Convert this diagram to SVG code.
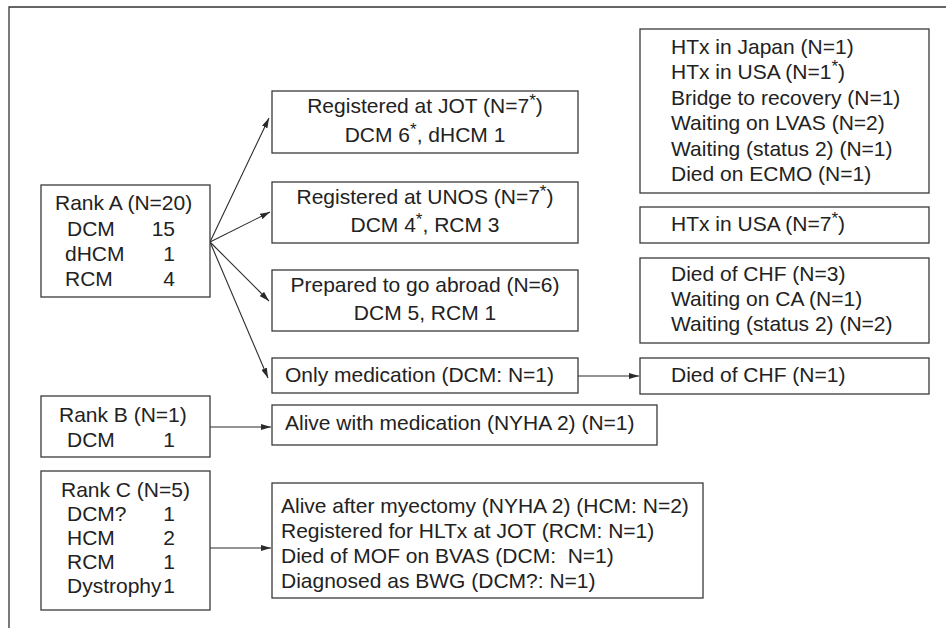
<svg xmlns="http://www.w3.org/2000/svg" width="946" height="628" viewBox="0 0 946 628">
<defs>
<style>
.box{fill:#fff;stroke:#3a3a3a;stroke-width:1.3}
.t{font-family:"Liberation Sans",Arial,sans-serif;font-size:21px;fill:#222}
.c{text-anchor:middle}
.e{text-anchor:end}
.sup{font-size:17px}
.ln{stroke:#2a2a2a;stroke-width:1.1;fill:none}
.frame{stroke:#333;stroke-width:1.3;fill:none}
</style>
<marker id="ah" viewBox="0 0 10 6" refX="10" refY="3" markerWidth="10" markerHeight="6" markerUnits="userSpaceOnUse" orient="auto">
<path d="M0,0 L10,3 L0,6 Z" fill="#2a2a2a"/>
</marker>
</defs>
<rect width="946" height="628" fill="#fff"/>
<path class="frame" d="M9,628 L9,7 L946,7"/>

<g id="connectors">
<line class="ln" x1="210" y1="242" x2="269" y2="118" marker-end="url(#ah)"/>
<line class="ln" x1="210" y1="242" x2="270" y2="212" marker-end="url(#ah)"/>
<line class="ln" x1="210" y1="242" x2="269" y2="301" marker-end="url(#ah)"/>
<line class="ln" x1="210" y1="242" x2="268" y2="378" marker-end="url(#ah)"/>
<line class="ln" x1="578" y1="376" x2="639" y2="376" marker-end="url(#ah)"/>
<line class="ln" x1="210" y1="427" x2="271" y2="427" marker-end="url(#ah)"/>
<line class="ln" x1="210" y1="548" x2="271" y2="548" marker-end="url(#ah)"/>
</g>

<g id="rankA">
<rect class="box" x="41" y="185" width="169" height="112"/>
<text class="t" x="55" y="210">Rank A (N=20)</text>
<text class="t" x="67" y="236">DCM</text><text class="t e" x="175" y="236">15</text>
<text class="t" x="65" y="261">dHCM</text><text class="t e" x="175" y="261">1</text>
<text class="t" x="65" y="286">RCM</text><text class="t e" x="175" y="286">4</text>
</g>

<g id="rankB">
<rect class="box" x="41" y="396" width="169" height="61"/>
<text class="t" x="59" y="422">Rank B (N=1)</text>
<text class="t" x="67" y="447">DCM</text><text class="t e" x="175" y="447">1</text>
</g>

<g id="rankC">
<rect class="box" x="41" y="471" width="169" height="139"/>
<text class="t" x="61" y="497">Rank C (N=5)</text>
<text class="t" x="67" y="521">DCM?</text><text class="t e" x="175" y="521">1</text>
<text class="t" x="67" y="545">HCM</text><text class="t e" x="175" y="545">2</text>
<text class="t" x="67" y="569">RCM</text><text class="t e" x="175" y="569">1</text>
<text class="t" x="67" y="593">Dystrophy</text><text class="t e" x="175" y="593">1</text>
</g>

<g id="jot">
<rect class="box" x="272" y="91" width="306" height="62"/>
<text class="t c" x="425" y="113">Registered at JOT (N=7<tspan class="sup" dy="-7">*</tspan><tspan dy="7">)</tspan></text>
<text class="t c" x="425" y="142">DCM 6<tspan class="sup" dy="-7">*</tspan><tspan dy="7">, dHCM 1</tspan></text>
</g>

<g id="unos">
<rect class="box" x="272" y="182" width="306" height="61"/>
<text class="t c" x="425" y="204">Registered at UNOS (N=7<tspan class="sup" dy="-7">*</tspan><tspan dy="7">)</tspan></text>
<text class="t c" x="425" y="232">DCM 4<tspan class="sup" dy="-7">*</tspan><tspan dy="7">, RCM 3</tspan></text>
</g>

<g id="abroad">
<rect class="box" x="272" y="270" width="306" height="61"/>
<text class="t c" x="425" y="292">Prepared to go abroad (N=6)</text>
<text class="t c" x="425" y="320">DCM 5, RCM 1</text>
</g>

<g id="onlyMed">
<rect class="box" x="272" y="358" width="306" height="35"/>
<text class="t" x="285" y="382">Only medication (DCM: N=1)</text>
</g>

<g id="aliveMed">
<rect class="box" x="272" y="405" width="385" height="40"/>
<text class="t" x="285" y="430">Alive with medication (NYHA 2) (N=1)</text>
</g>

<g id="rankCOut">
<rect class="box" x="272" y="483" width="431" height="115"/>
<text class="t" x="281" y="513">Alive after myectomy (NYHA 2) (HCM: N=2)</text>
<text class="t" x="281" y="538">Registered for HLTx at JOT (RCM: N=1)</text>
<text class="t" x="281" y="563" xml:space="preserve">Died of MOF on BVAS (DCM:  N=1)</text>
<text class="t" x="281" y="588">Diagnosed as BWG (DCM?: N=1)</text>
</g>

<g id="jotOut">
<rect class="box" x="640" y="29" width="289" height="164"/>
<text class="t" x="671" y="54">HTx in Japan (N=1)</text>
<text class="t" x="671" y="79">HTx in USA (N=1<tspan class="sup" dy="-7">*</tspan><tspan dy="7">)</tspan></text>
<text class="t" x="671" y="105">Bridge to recovery (N=1)</text>
<text class="t" x="671" y="130">Waiting on LVAS (N=2)</text>
<text class="t" x="671" y="156">Waiting (status 2) (N=1)</text>
<text class="t" x="671" y="181">Died on ECMO (N=1)</text>
</g>

<g id="unosOut">
<rect class="box" x="640" y="207" width="289" height="36"/>
<text class="t" x="671" y="231">HTx in USA (N=7<tspan class="sup" dy="-7">*</tspan><tspan dy="7">)</tspan></text>
</g>

<g id="abroadOut">
<rect class="box" x="640" y="258" width="289" height="85"/>
<text class="t" x="671" y="281">Died of CHF (N=3)</text>
<text class="t" x="671" y="306">Waiting on CA (N=1)</text>
<text class="t" x="671" y="331">Waiting (status 2) (N=2)</text>
</g>

<g id="onlyMedOut">
<rect class="box" x="640" y="358" width="289" height="36"/>
<text class="t" x="671" y="382">Died of CHF (N=1)</text>
</g>
</svg>
